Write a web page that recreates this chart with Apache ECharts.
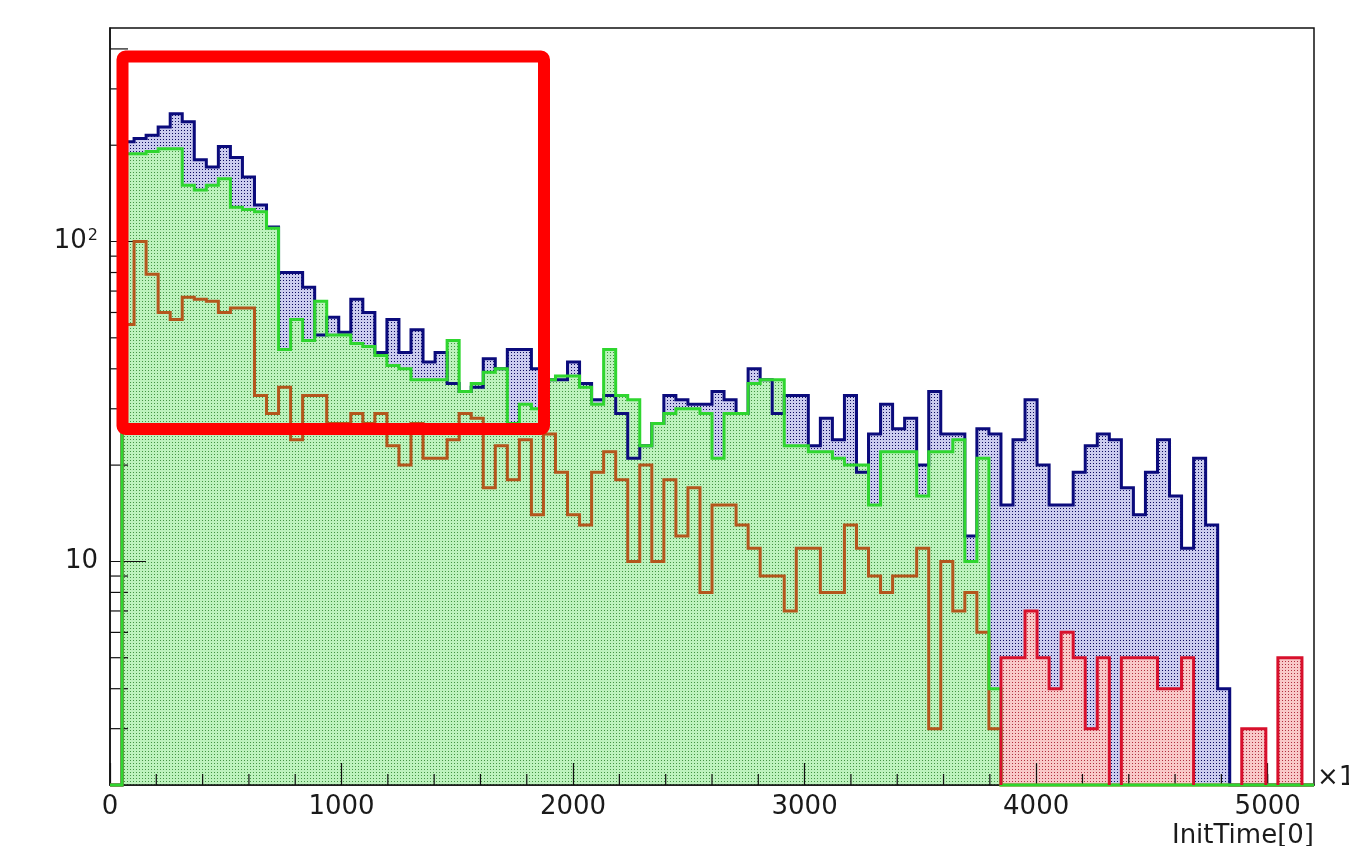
<!DOCTYPE html>
<html>
<head>
<meta charset="utf-8">
<script src="https://cdn.jsdelivr.net/npm/echarts@6/dist/echarts.min.js"></script>
<style>
html,body{margin:0;padding:0;background:#ffffff;}
#chart{width:1349px;height:846px;}
</style>
</head>
<body>
<div id="chart"></div>
<script>
// ---- histogram binning (100 bins, 0 .. 5200) ----
const binWidth = 52;
const X_MIN = 0, X_MAX = 5200;
const Y_MIN = 2, Y_MAX = 465;

// ---- series values (counts per bin) ----
const blueAll = [
  0,205,210,215,228,251,237,180,171,198,
  183,159,130,111,80,80,72,51,58,52,
  66,60,45,57,45,53,42,45,36,34,
  35,43,40,46,46,40,37,37,42,36,
  32,33,29,21,23,27,33,32,31,31,
  34,32,29,40,37,29,33,33,23,28,
  24,33,19,25,31,26,28,20,34,25,
  25,12,26,25,15,24,32,20,15,15,
  19,23,25,24,17,14,19,24,16,11,
  21,13,4,0,0,0,0,0,0,0
];
const greenSel = [
  0,188,188,191,195,195,150,145,150,157,
  128,126,124,110,46,57,49,65,51,51,
  48,47,44,41,40,37,37,37,49,34,
  36,39,40,27,31,30,37,38,38,35,
  31,46,33,32,23,27,29,30,30,29,
  21,29,29,36,37,37,23,23,22,22,
  21,20,20,15,22,22,22,16,22,22,
  24,10,21,4,0,0,0,0,0,0,
  0,0,0,0,0,0,0,0,0,0,
  0,0,0,0,0,0,0,0,0,0
];
const orangeSel = [
  0,55,100,79,60,57,67,66,65,60,
  62,62,33,29,35,24,33,33,27,27,
  29,27,29,23,20,27,21,21,24,29,
  28,17,23,18,24,14,25,19,14,13,
  19,22,18,10,20,10,18,12,17,8,
  15,15,13,11,9,9,7,11,11,8,
  8,13,11,9,8,9,9,11,3,10,
  7,8,6,3,0,0,0,0,0,0,
  0,0,0,0,0,0,0,0,0,0,
  0,0,0,0,0,0,0,0,0,0
];
const redSel = [
  0,0,0,0,0,0,0,0,0,0,
  0,0,0,0,0,0,0,0,0,0,
  0,0,0,0,0,0,0,0,0,0,
  0,0,0,0,0,0,0,0,0,0,
  0,0,0,0,0,0,0,0,0,0,
  0,0,0,0,0,0,0,0,0,0,
  0,0,0,0,0,0,0,0,0,0,
  0,0,0,0,5,5,7,5,4,6,
  5,3,5,0,5,5,5,4,4,5,
  0,0,0,0,3,3,0,5,5,0
];

// ---- tick values / labels ----
const xMajorTicks = [0,1000,2000,3000,4000,5000];
const xTickLabels = ['0','1000','2000','3000','4000','5000'];
const xMinorTicks = [200,400,600,800,1200,1400,1600,1800,2200,2400,2600,2800,
                     3200,3400,3600,3800,4200,4400,4600,4800,5000];
const yMajorTicks = [10,100];
const yTickLabels = ['{b|10}', '{b|10}{s|2}'];
const yMinorTicks = [3,4,5,6,7,8,9,20,30,40,50,60,70,80,90,200,300,400];
const xTitle = 'InitTime[0]';
const xExponent = '\u00d710\u00b3';

// ---- styles ----
const FONT = "'DejaVu Sans', 'Liberation Sans', Arial, sans-serif";
function makePattern(bg, dot) {
  const c = document.createElement('canvas');
  c.width = 3; c.height = 3;
  const g = c.getContext('2d');
  g.fillStyle = bg; g.fillRect(0, 0, 3, 3);
  g.fillStyle = dot; g.fillRect(1, 1, 1, 1);
  return { image: c, repeat: 'repeat' };
}
const bluePat = makePattern('#cbcbee', '#0c0c60');
const greenPat = makePattern('#bdf2bd', '#449444');
const redPat = makePattern('#f8c8c8', '#b03040');

// step outline; if skipZero, empty bins are not drawn along the bottom
function stepRuns(api, values, skipZero) {
  const runs = [];
  let cur = null;
  if (!skipZero) cur = [api.coord([X_MIN, Y_MIN])];
  for (let i = 0; i < values.length; i++) {
    const v = values[i];
    if (skipZero && !(v > 0)) {
      if (cur) {
        cur.push(api.coord([i * binWidth, Y_MIN]));
        runs.push(cur); cur = null;
      }
      continue;
    }
    if (!cur) cur = [api.coord([i * binWidth, Y_MIN])];
    const y = Math.max(v, Y_MIN);
    cur.push(api.coord([i * binWidth, y]));
    cur.push(api.coord([(i + 1) * binWidth, y]));
  }
  if (cur) { cur.push(api.coord([X_MAX, Y_MIN])); runs.push(cur); }
  return runs;
}

function histData(values) {
  return values.map((v, i) => [i * binWidth + binWidth / 2, Math.max(v, Y_MIN)]);
}

function fillSeries(name, values, pat) {
  return {
    type: 'custom', name: name + ' fill', z: 1, silent: true,
    data: histData(values),
    renderItem: function (params, api) {
      if (params.dataIndex !== 0) return null;
      const runs = stepRuns(api, values, false);
      return { type: 'polygon', shape: { points: runs[0] }, style: { fill: pat, stroke: null } };
    }
  };
}
function lineSeries(name, values, color, width, skipZero) {
  return {
    type: 'custom', name: name, z: 5, silent: true,
    data: histData(values),
    renderItem: function (params, api) {
      if (params.dataIndex !== 0) return null;
      const runs = stepRuns(api, values, skipZero);
      return { type: 'group', children: runs.map(pts => ({
        type: 'polyline', shape: { points: pts },
        style: { fill: null, stroke: color, lineWidth: width, lineJoin: 'miter' } })) };
    }
  };
}

const chart = echarts.init(document.getElementById('chart'), null, { renderer: 'canvas' });

const option = {
  animation: false,
  backgroundColor: '#ffffff',
  grid: { left: 110, right: 35, top: 28, bottom: 61, show: true,
          borderColor: '#111', borderWidth: 1.5, backgroundColor: 'transparent' },
  xAxis: {
    type: 'value', min: X_MIN, max: X_MAX, interval: 1000, z: 3,
    axisLine: { show: true, lineStyle: { color: '#111', width: 1.5 } },
    axisTick: { show: true, inside: true, length: 22, lineStyle: { color: '#111', width: 1.2 } },
    axisLabel: {
      fontSize: 26, color: '#1a1a1a', fontFamily: FONT, margin: 9, showMaxLabel: false,
      formatter: function (v) { const k = xMajorTicks.indexOf(v); return k >= 0 ? xTickLabels[k] : ''; }
    },
    splitLine: { show: false }
  },
  yAxis: {
    type: 'log', logBase: 10, min: Y_MIN, max: Y_MAX, z: 3,
    axisLine: { show: true, lineStyle: { color: '#111', width: 1.5 } },
    axisTick: { show: true, inside: true, length: 36, lineStyle: { color: '#111', width: 1.2 } },
    axisLabel: {
      color: '#1a1a1a', fontFamily: FONT, margin: 12, showMinLabel: false, showMaxLabel: false,
      formatter: function (v) {
        for (let k = 0; k < yMajorTicks.length; k++) {
          if (Math.abs(v - yMajorTicks[k]) < 1e-6 * yMajorTicks[k]) return yTickLabels[k];
        }
        return '';
      },
      rich: {
        b: { fontSize: 26, fontFamily: FONT, color: '#1a1a1a' },
        s: { fontSize: 16, fontFamily: FONT, color: '#1a1a1a', verticalAlign: 'top', padding: [0, 0, 12, 1] }
      }
    },
    splitLine: { show: false }
  },
  series: [
    fillSeries('All', blueAll, bluePat),
    fillSeries('Green', greenSel, greenPat),
    fillSeries('Red', redSel, redPat),
    {
      type: 'custom', name: 'y minor ticks', z: 4, silent: true,
      data: yMinorTicks.map(v => [X_MIN, v]),
      renderItem: function (params, api) {
        const p = api.coord([api.value(0), api.value(1)]);
        return { type: 'line', shape: { x1: p[0], y1: p[1], x2: p[0] + 18, y2: p[1] },
                 style: { stroke: '#111', lineWidth: 1.2 } };
      }
    },
    {
      type: 'custom', name: 'x minor ticks', z: 4, silent: true,
      data: xMinorTicks.map(v => [v, Y_MIN]),
      renderItem: function (params, api) {
        const p = api.coord([api.value(0), api.value(1)]);
        return { type: 'line', shape: { x1: p[0], y1: p[1], x2: p[0], y2: p[1] - 11 },
                 style: { stroke: '#111', lineWidth: 1.2 } };
      }
    },
    lineSeries('All', blueAll, '#0b0b7c', 3, false),
    lineSeries('Orange', orangeSel, '#b4561c', 3, false),
    lineSeries('Green', greenSel, '#2fd62f', 3, false),
    lineSeries('Red', redSel, '#d8102c', 3, true)
  ],
  graphic: [
    { type: 'rect', z: 100, silent: true,
      shape: { x: 122.5, y: 56.5, width: 421.5, height: 372.5, r: 3 },
      style: { fill: null, stroke: '#ff0000', lineWidth: 12 } },
    { type: 'text', z: 100, silent: true, x: 1314, y: 823,
      style: { text: xTitle, fontSize: 26, fontFamily: FONT, fill: '#1a1a1a', align: 'right', verticalAlign: 'top' } },
    { type: 'text', z: 100, silent: true, x: 1317, y: 778,
      style: { text: xExponent, fontSize: 26, fontFamily: FONT, fill: '#1a1a1a', align: 'left', verticalAlign: 'middle' } }
  ]
};
chart.setOption(option);
</script>
</body>
</html>
